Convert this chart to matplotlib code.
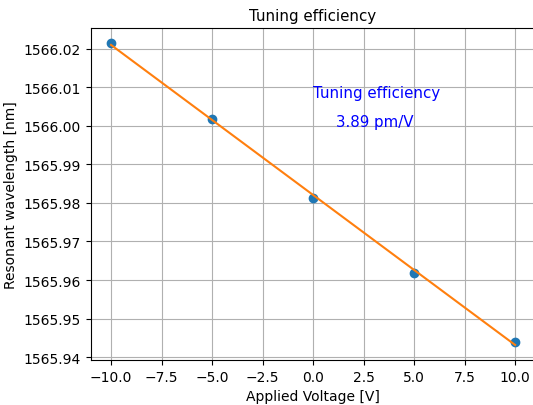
import numpy as np
import matplotlib.pyplot as plt

voltage = [-10, -5, 0, 5, 10]
wavelength = [1566.0214, 1566.0017, 1565.9814, 1565.9619, 1565.9440]

fit = np.polyfit(voltage, wavelength, 1)
efficiency = abs(fit[0]) * 1000  # pm/V

fig = plt.figure(figsize=(5.33, 4.06), dpi=100)
ax = fig.add_subplot(111)
fig.subplots_adjust(left=0.1704, right=1.0043, top=0.9278, bottom=0.1108)

ax.plot(voltage, wavelength, 'o')
ax.plot(voltage, np.polyval(fit, voltage))
ax.set_title('Tuning efficiency', fontsize=10.8)
ax.set_xlabel('Applied Voltage [V]')
ax.set_ylabel('Resonant wavelength [nm]')
ax.text(0, 1566.0074, 'Tuning efficiency', color='blue', fontsize=10.8)
ax.text(1.15, 1566.0000, f'{efficiency:.2f} pm/V', color='blue', fontsize=10.8)
ax.grid(True)
ax.ticklabel_format(useOffset=False)

fig.savefig('out.png')
